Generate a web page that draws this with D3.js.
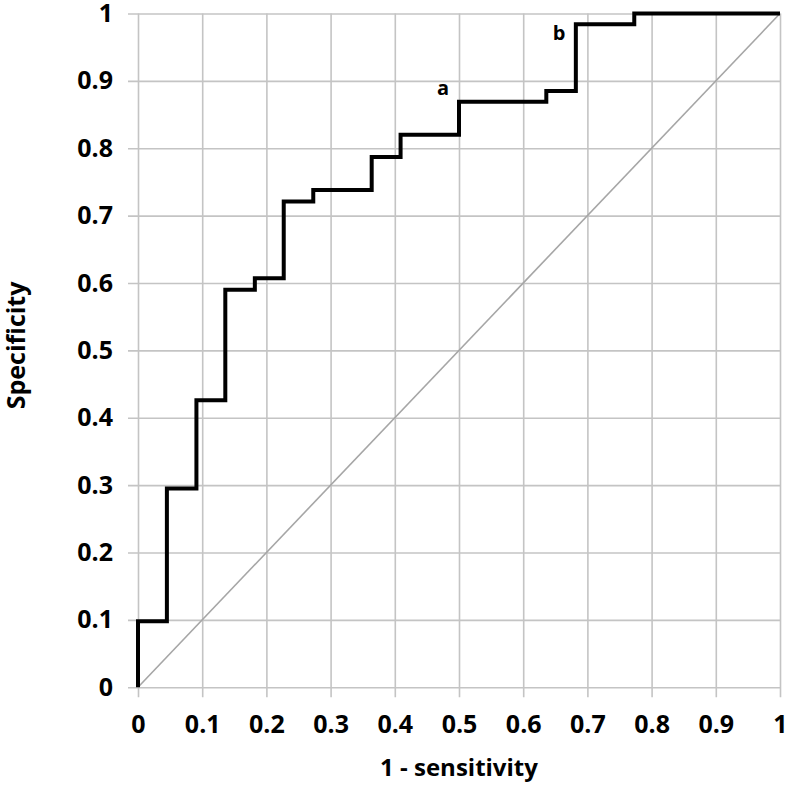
<!DOCTYPE html>
<html lang="en">
    <head>
        <meta charset="utf-8">
        <title>ROC curve</title>
        <style>
            body { margin: 0; background: #fff; }
            text { font-family: "Open Sans", sans-serif; font-weight: bold; fill: #000; }
        </style>
    </head>
    <body>

        <svg width="793" height="787"></svg>
        <script src="https://d3js.org/d3.v7.min.js"></script>
        <script>
        // ROC points (stepped: up first, then across)
        var fpr = [0, 0.045, 0.091, 0.136, 0.182, 0.227, 0.273, 0.364, 0.409, 0.5, 0.636, 0.682, 0.773, 1];
        var spec = [0, 0.098, 0.295, 0.426, 0.590, 0.607, 0.721, 0.738, 0.787, 0.820, 0.869, 0.885, 0.984, 1];

        var tickValues = [0, 0.1, 0.2, 0.3, 0.4, 0.5, 0.6, 0.7, 0.8, 0.9, 1];
        var tickLabels = ["0", "0.1", "0.2", "0.3", "0.4", "0.5", "0.6", "0.7", "0.8", "0.9", "1"];

        var notes = ["a", "b"];
        var noteX = [0.475, 0.656];
        var noteY = [0.879, 0.961];

        var svg = d3.select("svg"),
            margin = {top: 13.5, right: 13, bottom: 99.7, left: 138},
            width = +svg.attr("width") - margin.left - margin.right,
            height = +svg.attr("height") - margin.top - margin.bottom,
            g = svg.append("g").attr("transform", "translate(" + margin.left + "," + margin.top + ")");

        var x = d3.scaleLinear().domain([0, 1]).range([0, width]);
        var y = d3.scaleLinear().domain([0, 1]).range([height, 0]);

        var fmt = function(d, i) { return tickLabels[i]; };

        // x axis + vertical grid
        var xAxis = g.append("g")
            .attr("transform", "translate(0," + (height + 10) + ")")
            .call(d3.axisBottom(x).tickValues(tickValues).tickFormat(fmt)
                .tickSizeInner(-(height + 10)).tickSizeOuter(0).tickPadding(18));

        // y axis + horizontal grid
        var yAxis = g.append("g")
            .attr("transform", "translate(-10,0)")
            .call(d3.axisLeft(y).tickValues(tickValues).tickFormat(fmt)
                .tickSizeInner(-(width + 10)).tickSizeOuter(0).tickPadding(15));

        [xAxis, yAxis].forEach(function(a) {
            a.select(".domain").remove();
            a.selectAll(".tick line").attr("stroke", "#c4c4c4").attr("stroke-width", 1.6);
            a.selectAll(".tick text").attr("font-size", 25).attr("fill", "#000");
        });

        // chance diagonal
        g.append("line")
            .attr("x1", x(0)).attr("y1", y(0))
            .attr("x2", x(1)).attr("y2", y(1))
            .attr("stroke", "#a6a6a6")
            .attr("stroke-width", 1.6);

        var pts = fpr.map(function(d, i) { return [d, spec[i]]; });

        var line = d3.line()
            .curve(d3.curveStepBefore)
            .x(function(d) { return x(d[0]); })
            .y(function(d) { return y(d[1]); });

        g.append("path")
            .datum(pts)
            .attr("fill", "none")
            .attr("stroke", "#000")
            .attr("stroke-width", 4)
            .attr("stroke-linejoin", "miter")
            .attr("d", line);

        g.selectAll(".note")
            .data(notes)
            .enter().append("text")
            .attr("class", "note")
            .attr("x", function(d, i) { return x(noteX[i]); })
            .attr("y", function(d, i) { return y(noteY[i]); })
            .attr("text-anchor", "middle")
            .attr("font-size", 20)
            .text(function(d) { return d; });

        // axis titles
        g.append("text")
            .attr("x", width / 2)
            .attr("y", height + 89)
            .attr("text-anchor", "middle")
            .attr("font-size", 24)
            .text("1 - sensitivity");

        g.append("text")
            .attr("transform", "rotate(-90)")
            .attr("x", -height / 2 + 5)
            .attr("y", -113)
            .attr("text-anchor", "middle")
            .attr("font-size", 25)
            .text("Specificity");
        </script>

    </body>
</html>
